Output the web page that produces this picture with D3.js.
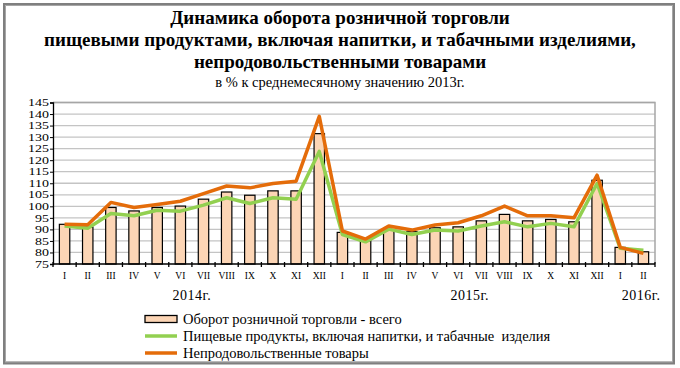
<!DOCTYPE html>
<html><head><meta charset="utf-8">
<script src="https://cdn.jsdelivr.net/npm/d3@7"></script>
<style>
body{margin:0;background:#fff;}
svg text{font-family:'Liberation Serif','DejaVu Serif',serif;}
</style></head>
<body><svg id="c" width="680" height="368"></svg>
<script>
const months = ["I","II","III","IV","V","VI","VII","VIII","IX","X","XI","XII",
                "I","II","III","IV","V","VI","VII","VIII","IX","X","XI","XII",
                "I","II"];
const totalRetail = [92.2,91.0,99.5,98.0,99.5,100.1,103.1,106.2,104.8,106.7,106.7,131.5,
                     88.7,85.1,89.7,89.0,90.7,91.1,93.7,96.5,93.7,94.3,93.3,111.3,
                     82.2,80.3];
const foodSeries = [91.5,90.5,96.9,95.9,98.3,97.9,100.5,103.7,101.2,103.7,103.1,123.8,
                    87.8,84.6,90.1,87.8,89.7,89.3,91.5,93.3,91.1,92.6,91.1,109.9,
                    81.8,81.0];
const nonFoodSeries = [92.2,92.0,101.7,99.5,100.8,102.2,105.5,108.8,108.0,109.9,110.9,139.0,
                       89.3,85.8,91.5,89.7,91.9,92.9,95.9,100.1,95.9,95.9,95.0,113.5,
                       82.2,79.6];
const yTicks = [75,80,85,90,95,100,105,110,115,120,125,130,135,140,145];
const yearLabels = [{label:"2014г.", at:5.5},{label:"2015г.", at:17.5},{label:"2016г.", at:24.9}];
const titleLines = ["Динамика оборота розничной торговли",
                    "пищевыми продуктами, включая напитки, и табачными изделиями,",
                    "непродовольственными товарами"];
const subtitle = "в % к среднемесячному значению 2013г.";
const legendItems = ["Оборот розничной торговли - всего",
                     "Пищевые продукты, включая напитки, и табачные  изделия",
                     "Непродовольственные товары"];

const FONT = "Liberation Serif, DejaVu Serif, serif";
const svg = d3.select("#c");
const L = 53, R = 655, T = 102.5, B = 264;
const idx = d3.range(months.length);
const x = d3.scaleBand().domain(idx).range([L, R]).paddingInner(0.55).paddingOuter(0.275);
const xb = d3.scaleBand().domain(idx).range([L, R]);
const y = d3.scaleLinear().domain([75,145]).range([B, T]);

// outer frame
svg.append("rect").attr("x",4.5).attr("y",4.5).attr("width",669).attr("height",358.5)
  .attr("fill","none").attr("stroke","#7f7f7f").attr("stroke-width",3);
svg.append("rect").attr("x",5.5).attr("y",5.5).attr("width",667).attr("height",356.5)
  .attr("fill","none").attr("stroke","#b0b0b0").attr("stroke-width",0.8);

// titles
titleLines.forEach((t,i)=>{
  svg.append("text").attr("x",340).attr("y",24+i*22).attr("text-anchor","middle")
    .attr("font-family",FONT)
    .attr("font-weight","bold").attr("font-size",19).attr("fill","#000").text(t);
});
svg.append("text").attr("x",340).attr("y",87).attr("text-anchor","middle")
  .attr("font-family",FONT)
  .attr("font-size",14.5).attr("fill","#000").text(subtitle);

// grid
svg.append("g").selectAll("line").data(yTicks.filter(d=>d>75)).join("line")
  .attr("x1",L).attr("x2",R).attr("y1",d=>y(d)).attr("y2",d=>y(d))
  .attr("stroke","#c4c4c4").attr("stroke-width",1.3);
// plot border top/right
svg.append("path").attr("d",`M${L},${T}H${R}V${B}`).attr("fill","none")
  .attr("stroke","#a6a6a6").attr("stroke-width",1.5);

// bars
svg.append("g").selectAll("rect").data(totalRetail).join("rect")
  .attr("x",(d,i)=>x(i)).attr("width",x.bandwidth())
  .attr("y",d=>y(d)).attr("height",d=>B-y(d))
  .attr("fill","#fcd5b5").attr("stroke","#000").attr("stroke-width",1.2);

// lines
const line = d3.line().x((d,i)=>xb(i)+xb.bandwidth()/2).y(d=>y(d));
svg.append("path").datum(foodSeries).attr("d",line).attr("fill","none")
  .attr("stroke","#92d050").attr("stroke-width",3.5).attr("stroke-linejoin","round");
svg.append("path").datum(nonFoodSeries).attr("d",line).attr("fill","none")
  .attr("stroke","#e46c0a").attr("stroke-width",3.5).attr("stroke-linejoin","round");

// y axis
const SX = 1.4;
const ya = svg.append("g").attr("transform",`translate(${L},0)`)
  .call(d3.axisLeft(y).tickValues(yTicks).tickSize(3).tickPadding(2));
ya.attr("font-family",FONT);
ya.select(".domain").attr("stroke","#000").attr("stroke-width",1.3);
ya.selectAll("line").attr("stroke","#000");
ya.selectAll("text").attr("font-size",10).attr("fill","#000").attr("font-family",FONT)
  .attr("x",-4/SX).attr("transform",`scale(${SX},1)`);

// x axis
svg.append("line").attr("x1",L).attr("x2",R).attr("y1",B).attr("y2",B)
  .attr("stroke","#000").attr("stroke-width",1.5);
svg.append("g").selectAll("line").data(d3.range(months.length+1)).join("line")
  .attr("x1",i=>L+i*xb.step()).attr("x2",i=>L+i*xb.step())
  .attr("y1",B-2).attr("y2",B+3).attr("stroke","#000").attr("stroke-width",1.3);
svg.append("g").selectAll("text").data(months).join("text")
  .attr("x",(d,i)=>xb(i)+xb.bandwidth()/2).attr("y",279)
  .attr("font-family",FONT)
  .attr("text-anchor","middle").attr("font-size",9.5).attr("fill","#000").text(d=>d);

// year labels
svg.append("g").selectAll("text").data(yearLabels).join("text")
  .attr("x",d=>L+d.at*xb.step()+xb.step()/2).attr("y",300)
  .attr("font-family",FONT)
  .attr("text-anchor","middle").attr("font-size",14).attr("letter-spacing",0.5)
  .attr("fill","#000").text(d=>d.label);

// legend
const lg = svg.append("g");
const ly = [319,336,353];
lg.append("rect").attr("x",145).attr("y",ly[0]-3.5).attr("width",32).attr("height",7)
  .attr("fill","#fcd5b5").attr("stroke","#000").attr("stroke-width",1.3);
lg.append("line").attr("x1",145).attr("x2",177).attr("y1",ly[1]).attr("y2",ly[1])
  .attr("stroke","#92d050").attr("stroke-width",3.5);
lg.append("line").attr("x1",145).attr("x2",177).attr("y1",ly[2]).attr("y2",ly[2])
  .attr("stroke","#e46c0a").attr("stroke-width",3.5);
legendItems.forEach((t,i)=>{
  lg.append("text").attr("x",183).attr("y",ly[i]+4.5).attr("font-size",14.5)
    .attr("font-family",FONT)
    .attr("fill","#000").style("white-space","pre").text(t);
});
</script></body></html>
